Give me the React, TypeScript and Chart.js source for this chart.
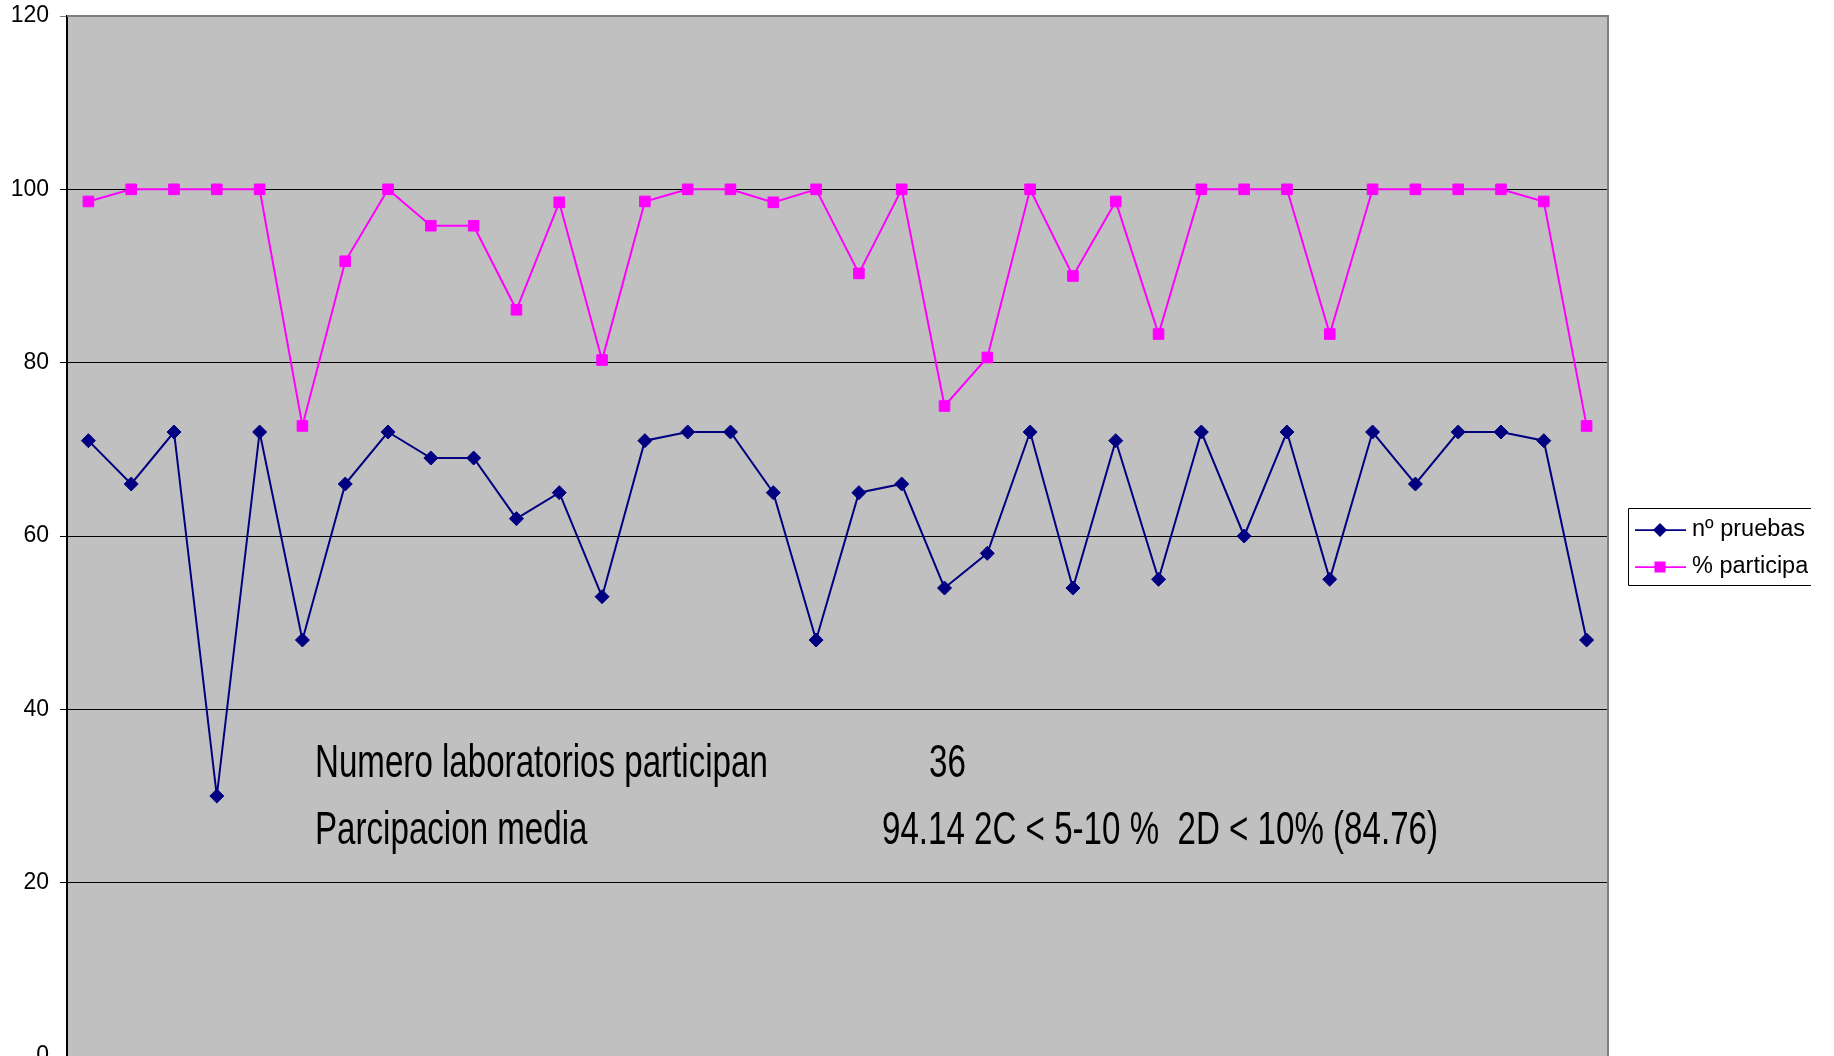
import React, { useEffect, useRef } from 'react';
import { Chart, registerables } from 'chart.js';

Chart.register(...registerables);

const categories = [
  '1', '2', '3', '4', '5', '6', '7', '8', '9', '10', '11', '12',
  '13', '14', '15', '16', '17', '18', '19', '20', '21', '22', '23', '24',
  '25', '26', '27', '28', '29', '30', '31', '32', '33', '34', '35', '36',
];

const nPruebas = [
  71, 66, 72, 30, 72, 48, 66, 72, 69, 69, 62, 65,
  53, 71, 72, 72, 65, 48, 65, 66, 54, 58, 72, 54,
  71, 55, 72, 60, 72, 55, 72, 66, 72, 72, 71, 48,
];

const pctParticipa = [
  98.6, 100, 100, 100, 100, 72.7, 91.7, 100, 95.8, 95.8, 86.1, 98.5,
  80.3, 98.6, 100, 100, 98.5, 100, 90.3, 100, 75, 80.6, 100, 90,
  98.6, 83.3, 100, 100, 100, 83.3, 100, 100, 100, 100, 98.6, 72.7,
];

const yTicks = [0, 20, 40, 60, 80, 100, 120];

const seriesNames = ['nº pruebas', '% participacion'];
const seriesColors = ['#000080', '#FF00FF'];

const noteLabels = ['Numero laboratorios participan', 'Parcipacion media'];
const noteValues = ['36', '94.14 2C < 5-10 %  2D < 10% (84.76)'];

const FONT = '"Liberation Sans", Arial, Helvetica, sans-serif';

const W = 1834;
const H = 1056;

const plotBgPlugin = {
  id: 'plotBg',
  beforeDraw(chart: any) {
    const { ctx, chartArea } = chart;
    ctx.save();
    ctx.fillStyle = '#C0C0C0';
    ctx.fillRect(chartArea.left, chartArea.top, chartArea.right - chartArea.left, chartArea.bottom - chartArea.top);
    ctx.restore();
  },
  afterDatasetsDraw(chart: any) {
    const { ctx, chartArea } = chart;
    ctx.save();
    ctx.strokeStyle = '#808080';
    ctx.lineWidth = 2;
    ctx.beginPath();
    ctx.moveTo(chartArea.left, chartArea.top);
    ctx.lineTo(chartArea.right, chartArea.top);
    ctx.lineTo(chartArea.right, chartArea.bottom);
    ctx.stroke();
    ctx.restore();
  },
};

const notesPlugin = {
  id: 'notes',
  afterDraw(chart: any) {
    const { ctx } = chart;
    const sx = 0.72;
    const labelX = 315;
    const valueX = [929, 882];
    const baseY = [777, 844];
    ctx.save();
    ctx.fillStyle = '#000';
    ctx.font = `46px ${FONT}`;
    ctx.textBaseline = 'alphabetic';
    ctx.textAlign = 'left';
    for (let i = 0; i < noteLabels.length; i++) {
      ctx.save();
      ctx.translate(labelX, baseY[i]);
      ctx.scale(sx, 1);
      ctx.fillText(noteLabels[i], 0, 0);
      ctx.restore();
      ctx.save();
      ctx.translate(valueX[i], baseY[i]);
      ctx.scale(sx, 1);
      ctx.fillText(noteValues[i], 0, 0);
      ctx.restore();
    }
    ctx.restore();
  },
};

const legendPlugin = {
  id: 'customLegend',
  afterDraw(chart: any) {
    const { ctx } = chart;
    const lx = 1628;
    const ly = 508;
    const rx = 1811;
    const lh = 77;
    ctx.save();
    ctx.fillStyle = '#fff';
    ctx.fillRect(lx, ly, rx - lx, lh);
    ctx.strokeStyle = '#000';
    ctx.lineWidth = 1;
    ctx.beginPath();
    ctx.moveTo(rx, ly + 0.5);
    ctx.lineTo(lx + 0.5, ly + 0.5);
    ctx.lineTo(lx + 0.5, ly + lh + 0.5);
    ctx.lineTo(rx, ly + lh + 0.5);
    ctx.stroke();
    ctx.beginPath();
    ctx.rect(lx, ly, 1808 - lx, lh + 2);
    ctx.clip();
    const rows = [530, 567];
    for (let i = 0; i < seriesNames.length; i++) {
      const y = rows[i];
      const c = seriesColors[i];
      ctx.strokeStyle = c;
      ctx.lineWidth = 1.75;
      ctx.beginPath();
      ctx.moveTo(1635, y);
      ctx.lineTo(1686, y);
      ctx.stroke();
      ctx.fillStyle = c;
      ctx.beginPath();
      if (i === 0) {
        const r = 7;
        ctx.moveTo(1660, y - r);
        ctx.lineTo(1660 + r, y);
        ctx.lineTo(1660, y + r);
        ctx.lineTo(1660 - r, y);
        ctx.closePath();
      } else {
        ctx.rect(1660 - 5.5, y - 5.5, 11, 11);
      }
      ctx.fill();
      ctx.fillStyle = '#000';
      ctx.font = `23.5px ${FONT}`;
      ctx.textBaseline = 'middle';
      ctx.textAlign = 'left';
      ctx.fillText(seriesNames[i], 1692, y);
    }
    ctx.restore();
  },
};

export default function App() {
  const ref = useRef<HTMLCanvasElement>(null);

  useEffect(() => {
    const canvas = ref.current;
    if (!canvas) return;
    const chart = new Chart(canvas, {
      type: 'line',
      data: {
        labels: categories,
        datasets: [
          {
            label: seriesNames[0],
            data: nPruebas,
            borderColor: seriesColors[0],
            backgroundColor: seriesColors[0],
            borderWidth: 2,
            pointStyle: 'rectRot',
            pointRadius: 7,
            pointBorderWidth: 1,
            pointBorderColor: seriesColors[0],
            pointBackgroundColor: seriesColors[0],
            tension: 0,
          },
          {
            label: seriesNames[1],
            data: pctParticipa,
            borderColor: seriesColors[1],
            backgroundColor: seriesColors[1],
            borderWidth: 2,
            pointStyle: 'rect',
            pointRadius: 7.5,
            pointBorderWidth: 1,
            pointBorderColor: seriesColors[1],
            pointBackgroundColor: seriesColors[1],
            tension: 0,
          },
        ],
      },
      options: {
        responsive: false,
        animation: false,
        devicePixelRatio: 1,
        layout: { autoPadding: false, padding: { left: 0, top: 16, right: W - 1608, bottom: 0 } },
        plugins: {
          legend: { display: false },
          tooltip: { enabled: false },
        },
        scales: {
          x: {
            type: 'category',
            offset: true,
            display: false,
            grid: { display: false },
          },
          y: {
            min: 0,
            max: 120,
            afterBuildTicks(scale: any) {
              scale.ticks = yTicks.map((v) => ({ value: v }));
            },
            afterFit(scale: any) {
              scale.width = 67;
              scale.paddingTop = 0;
              scale.paddingBottom = 0;
            },
            ticks: {
              color: '#000',
              padding: 11,
              font: { family: FONT, size: 23 },
            },
            grid: {
              color: (c: any) => (c.tick && c.tick.value === 120 ? '#808080' : '#000'),
              lineWidth: 1,
              tickLength: 7,
              drawTicks: true,
              drawOnChartArea: true,
            },
            border: { display: true, color: '#000', width: 2 },
          },
        },
      },
      plugins: [plotBgPlugin, notesPlugin, legendPlugin],
    } as any);
    return () => chart.destroy();
  }, []);

  return (
    <div style={{ position: 'fixed', left: 0, top: 0, width: W, height: H, overflow: 'hidden', background: '#fff' }}>
      <canvas ref={ref} width={W} height={H} style={{ display: 'block', width: W, height: H }} />
    </div>
  );
}
